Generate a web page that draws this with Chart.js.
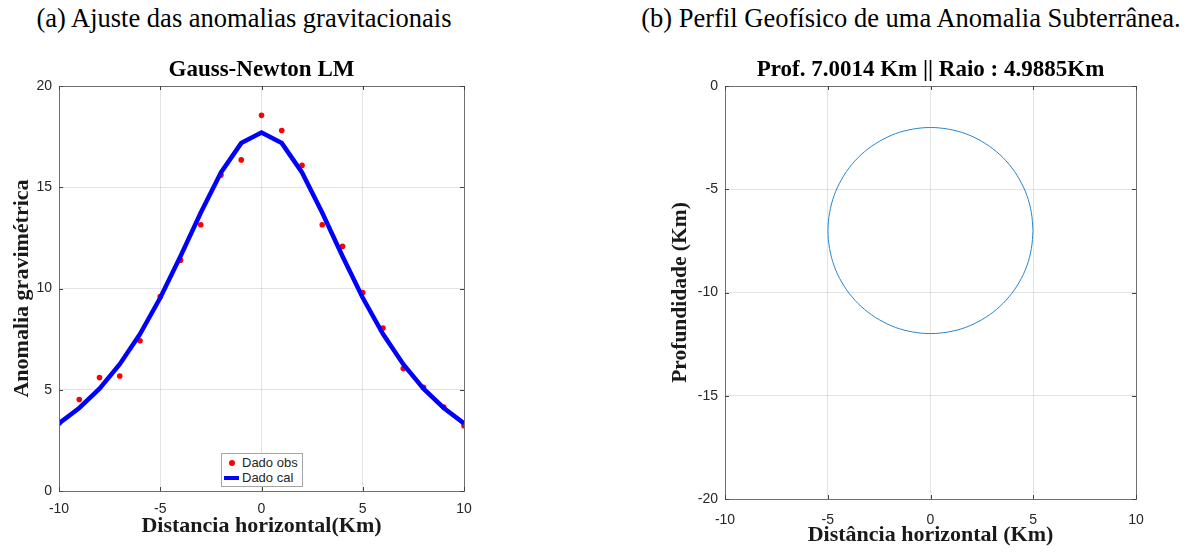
<!DOCTYPE html>
<html><head><meta charset="utf-8">
<script src="https://cdn.jsdelivr.net/npm/chart.js@4.4.0/dist/chart.umd.min.js"></script>
<style>
html,body{margin:0;padding:0;background:#fff;width:1194px;height:552px;overflow:hidden;}
.cap{position:absolute;top:0;font-family:"Liberation Serif","Times New Roman",serif;font-size:26.5px;color:#000;white-space:nowrap;transform:translateX(-50%);line-height:36px;}
.box{position:absolute;top:0;height:552px;}
#legA{position:absolute;left:221px;top:453px;width:80px;height:32px;border:1px solid #a6a6a6;background:#fff;font-family:"Liberation Sans",Arial,sans-serif;font-size:13px;color:#262626;}
#legA .row{position:absolute;left:0;height:16px;line-height:16px;width:80px;}
#legA .txt{position:absolute;left:20px;top:0;}
#legA .sw{position:absolute;}
</style></head><body>
<div class="cap" style="left:244px">(a) Ajuste das anomalias gravitacionais</div>
<div class="cap" style="left:911px">(b) Perfil Geofísico de uma Anomalia Subterrânea.</div>
<div class="box" style="left:0;width:600px"><canvas id="c1"></canvas></div>
<div class="box" style="left:600px;width:594px"><canvas id="c2"></canvas></div>
<div id="legA"></div>
<script>
// ---- data ----
const distX = [-10,-9,-8,-7,-6,-5,-4,-3,-2,-1,0,1,2,3,4,5,6,7,8,9,10];
const obsY  = [3.35,4.52,5.6,5.68,7.42,9.6,11.4,13.15,15.6,16.35,18.55,17.8,16.08,13.15,12.08,9.8,8.05,6.05,5.12,4.15,3.22];
const calY  = [3.34,4.10,5.05,6.26,7.75,9.54,11.59,13.74,15.73,17.18,17.70,17.18,15.73,13.74,11.59,9.54,7.75,6.26,5.05,4.10,3.34];
const circleX = [4.99,4.91,4.69,4.32,3.82,3.21,2.49,1.71,0.87,0,-0.87,-1.71,-2.49,-3.21,-3.82,-4.32,-4.69,-4.91,-4.99,-4.91,-4.69,-4.32,-3.82,-3.21,-2.49,-1.71,-0.87,0,0.87,1.71,2.49,3.21,3.82,4.32,4.69,4.91,4.99];
const circleY = [-7.00,-6.14,-5.30,-4.51,-3.79,-3.18,-2.68,-2.31,-2.09,-2.01,-2.09,-2.31,-2.68,-3.18,-3.79,-4.51,-5.30,-6.14,-7.00,-7.87,-8.71,-9.50,-10.21,-10.82,-11.32,-11.69,-11.91,-11.99,-11.91,-11.69,-11.32,-10.82,-10.21,-9.50,-8.71,-7.87,-7.00];
const seriesLabels = ['Dado obs','Dado cal'];
const titleA = 'Gauss-Newton LM';
const titleB = 'Prof. 7.0014 Km || Raio : 4.9885Km';
const xTitleA = 'Distancia horizontal(Km)';
const yTitleA = 'Anomalia gravimétrica';
const xTitleB = 'Distância horizontal (Km)';
const yTitleB = 'Profundidade (Km)';

const AXC = '#7a7a7a';
const GRIDC = 'rgba(0,0,0,0.11)';
const tickFont = {family:'"Liberation Sans", Arial, sans-serif', size:14};
const serifBold = (s)=>({family:'"Liberation Serif","Times New Roman",serif', size:s, weight:'bold'});

const boxPlugin = {
  id:'box',
  afterDraw(chart){
    const {ctx, chartArea:a, scales:{x,y}} = chart;
    ctx.save();
    ctx.strokeStyle = '#6e6e6e';
    ctx.lineWidth = 1;
    ctx.strokeRect(Math.round(a.left)+0.5, Math.round(a.top)+0.5, Math.round(a.right-a.left), Math.round(a.bottom-a.top));
    ctx.strokeStyle = '#444';
    ctx.beginPath();
    const L = 4;
    x.ticks.forEach(t=>{
      const px = Math.round(x.getPixelForValue(t.value))+0.5;
      ctx.moveTo(px,a.bottom); ctx.lineTo(px,a.bottom-L);
      ctx.moveTo(px,a.top); ctx.lineTo(px,a.top+L);
    });
    y.ticks.forEach(t=>{
      const py = Math.round(y.getPixelForValue(t.value))+0.5;
      ctx.moveTo(a.left,py); ctx.lineTo(a.left+L,py);
      ctx.moveTo(a.right,py); ctx.lineTo(a.right-L,py);
    });
    ctx.stroke();
    ctx.restore();
  }
};

function axisCommon(min,max,pad){
  return {
    type:'linear', min:min, max:max,
    ticks:{stepSize:5, font:tickFont, color:'#262626', padding:pad},
    grid:{color:GRIDC, drawTicks:false, lineWidth:1},
    border:{display:true, color:AXC}
  };
}

// ---- chart (a) ----
const xa = axisCommon(-10,10,10);
xa.title = {display:true, text:xTitleA, font:serifBold(22), color:'#1a1a1a', padding:{top:0,bottom:12}};
xa.afterFit = s=>{ s.height = 61; };
const ya = axisCommon(0,20,7);
ya.title = {display:true, text:yTitleA, font:serifBold(22), color:'#1a1a1a', padding:{top:9,bottom:0}};
ya.afterFit = s=>{ s.width = 59; };

const chartA = new Chart(document.getElementById('c1'), {
  type:'scatter',
  data:{datasets:[
    {label:seriesLabels[0], data:distX.map((x,i)=>({x:x,y:obsY[i]})), backgroundColor:'#ff0000', borderColor:'#ff0000', pointRadius:2.8, pointBorderWidth:0, showLine:false, order:2},
    {label:seriesLabels[1], data:distX.map((x,i)=>({x:x,y:calY[i]})), borderColor:'#0000ff', backgroundColor:'#0000ff', borderWidth:4.5, pointRadius:0, showLine:true, tension:0, order:1}
  ]},
  options:{
    responsive:true, maintainAspectRatio:false, animation:false, devicePixelRatio:1,
    layout:{padding:{left:0,right:136,top:0,bottom:0}},
    plugins:{
      legend:{display:false}, tooltip:{enabled:false},
      title:{display:true, text:titleA, fullSize:false, font:serifBold(23), color:'#000', padding:{top:56,bottom:2.4}}
    },
    scales:{x:xa, y:ya}
  },
  plugins:[boxPlugin]
});

// ---- chart (b) ----
const xb = axisCommon(-10,10,13);
xb.title = {display:true, text:xTitleB, font:serifBold(22), color:'#1a1a1a', padding:{top:0,bottom:3}};
xb.afterFit = s=>{ s.height = 53; };
const yb = axisCommon(-20,0,7);
yb.title = {display:true, text:yTitleB, font:serifBold(21.5), color:'#1a1a1a', padding:{top:68,bottom:0}};
yb.afterFit = s=>{ s.width = 125; };

const chartB = new Chart(document.getElementById('c2'), {
  type:'scatter',
  data:{datasets:[
    {label:'perfil', data:circleX.map((x,i)=>({x:x,y:circleY[i]})), borderColor:'rgb(40,132,200)', borderWidth:1, pointRadius:0, showLine:true, tension:0.35}
  ]},
  options:{
    responsive:true, maintainAspectRatio:false, animation:false, devicePixelRatio:1,
    layout:{padding:{left:0,right:58,top:0,bottom:0}},
    plugins:{
      legend:{display:false}, tooltip:{enabled:false},
      title:{display:true, text:titleB, fullSize:false, font:serifBold(23), color:'#000', padding:{top:56,bottom:2.4}}
    },
    scales:{x:xb, y:yb}
  },
  plugins:[boxPlugin]
});

// ---- legend for (a), built from the chart's datasets ----
const leg = document.getElementById('legA');
chartA.data.datasets.forEach((ds,i)=>{
  const row = document.createElement('div');
  row.className = 'row';
  row.style.top = (1 + i*15) + 'px';
  const sw = document.createElement('div');
  sw.className = 'sw';
  if (i === 0){
    Object.assign(sw.style,{left:'7px',top:'5px',width:'6px',height:'6px',borderRadius:'50%',background:ds.backgroundColor});
  } else {
    Object.assign(sw.style,{left:'2px',top:'6px',width:'15px',height:'4px',background:ds.borderColor});
  }
  const tx = document.createElement('span');
  tx.className = 'txt';
  tx.textContent = ds.label;
  row.appendChild(sw); row.appendChild(tx);
  leg.appendChild(row);
});
</script>
</body></html>
